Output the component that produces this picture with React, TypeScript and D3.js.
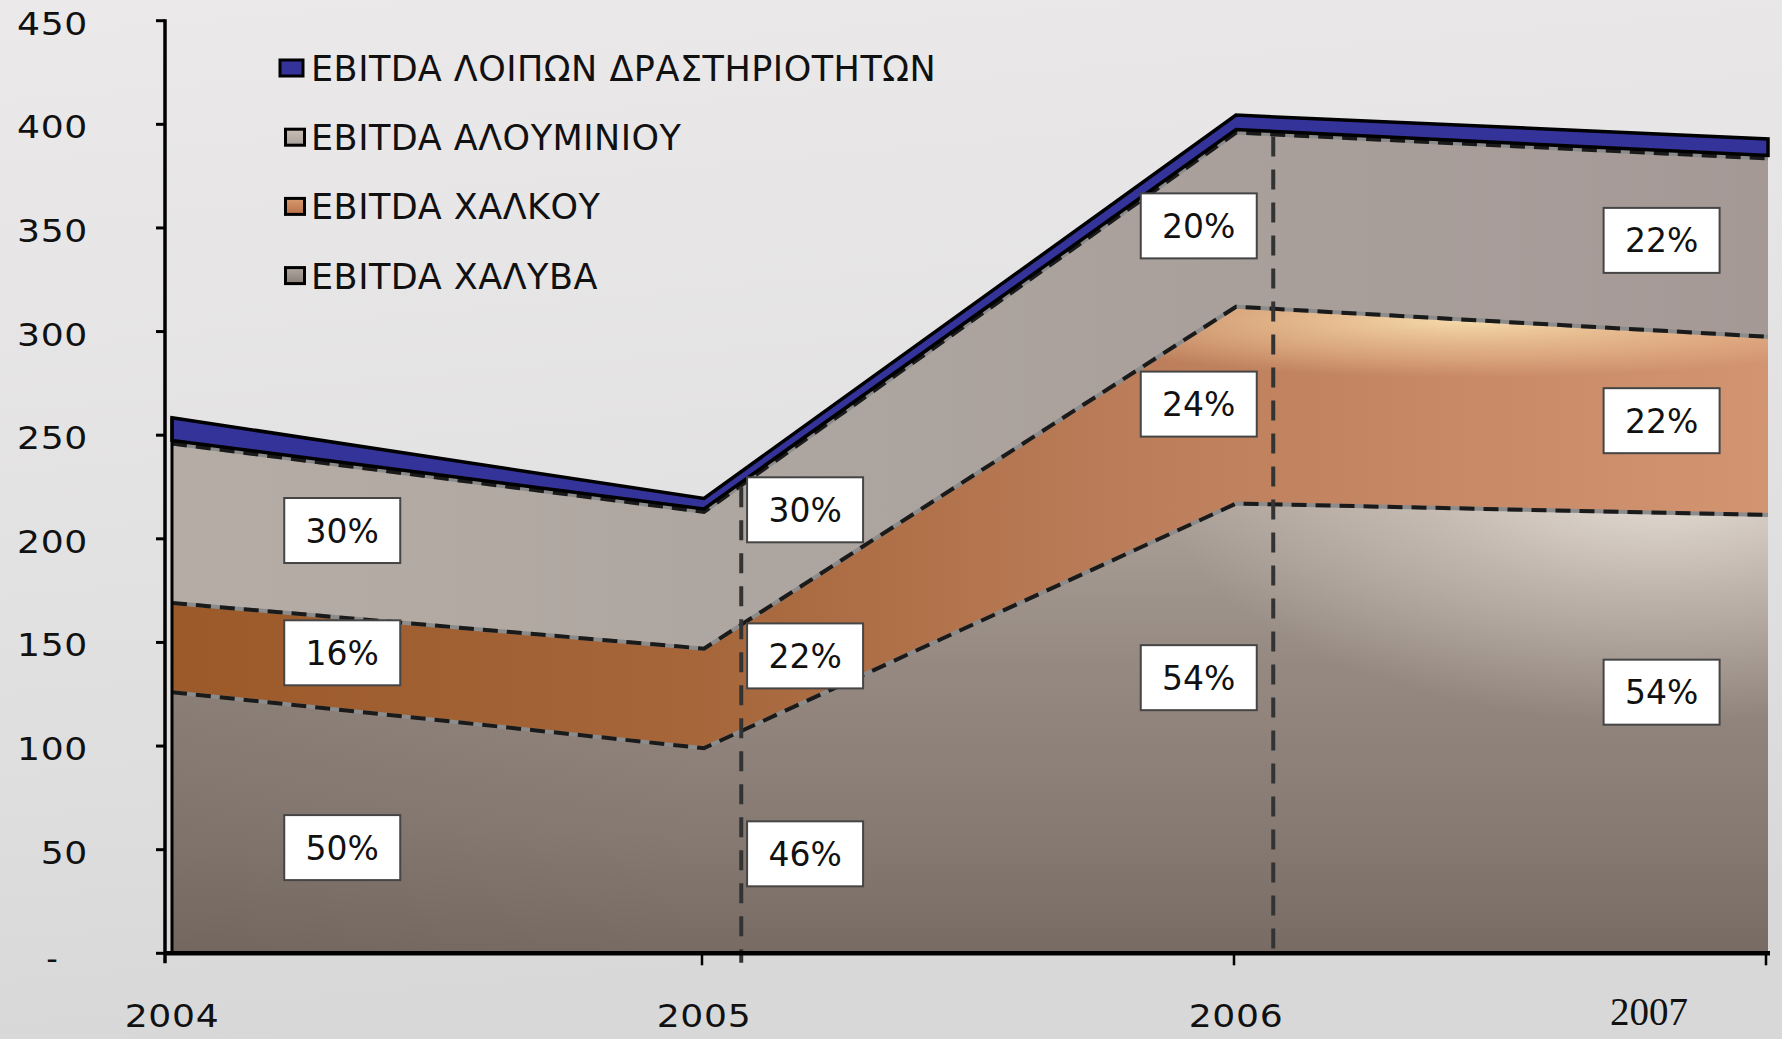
import React from 'react';
import * as d3 from 'd3';

// EBITDA by business unit, stacked
const years = ['2004', '2005', '2006', '2007'];
const steel = [126, 99, 217, 211.5];
const copper = [43, 48, 95, 86];
const aluminium = [77, 66, 84, 86];
const other = [11, 5, 7, 8];

const yTicks = [0, 50, 100, 150, 200, 250, 300, 350, 400, 450];

const legendNames = [
  'EBITDA ΛΟΙΠΩΝ ΔΡΑΣΤΗΡΙΟΤΗΤΩΝ',
  'EBITDA ΑΛΟΥΜΙΝΙΟΥ',
  'EBITDA ΧΑΛΚΟΥ',
  'EBITDA ΧΑΛΥΒΑ',
];

// share of each unit per year, as printed in the boxes
const steelPct = [50, 46, 54, 54];
const copperPct = [16, 22, 24, 22];
const aluminiumPct = [30, 30, 20, 22];

// where the boxes sit: fractional category index, and value of the box centre
const labelCat = [0.32, 1.19, 1.93, 2.8];
const steelLabelAt = [51, 48, 133, 126];
const copperLabelAt = [145, 143.5, 265, 257];
const aluminiumLabelAt = [204, 214, 351, 344];

const W = 1782;
const H = 1039;
const FONT = '"DejaVu Sans", Verdana, sans-serif';

const x = d3.scaleLinear().domain([0, years.length - 1]).range([172, 1768]);
const y = d3.scaleLinear().domain([0, 450]).range([953.3, 20.7]);

const rows = years.map((yr, i) => ({
  year: yr,
  steel: steel[i],
  copper: copper[i],
  aluminium: aluminium[i],
  other: other[i],
}));
const stacked = d3.stack<any>().keys(['steel', 'copper', 'aluminium', 'other'])(rows);

const area = d3
  .area<any>()
  .x((d, i) => x(i))
  .y0((d) => y(d[0]))
  .y1((d) => y(d[1]));
const topLine = d3
  .line<any>()
  .x((d, i) => x(i))
  .y((d) => y(d[1]));

// value of a layer's top edge at a fractional category
const topAt = (layer: number, c: number) => {
  const i = Math.min(Math.floor(c), years.length - 2);
  const t = c - i;
  const a = stacked[layer][i][1];
  const b = stacked[layer][i + 1][1];
  return a + (b - a) * t;
};

const dropLines = [
  { cat: 1.07, end: -4.5 },
  { cat: 2.07, end: -3.5 },
];

function Boundary({ d }: { d: string }) {
  return (
    <g fill="none">
      <path d={d} stroke="#8c8c8c" strokeWidth={4} />
      <path d={d} stroke="#1a1a1a" strokeWidth={4} strokeDasharray="15 9" />
    </g>
  );
}

function PctBox({ cx, cy, text }: { cx: number; cy: number; text: string }) {
  const bw = 116;
  const bh = 65;
  return (
    <g>
      <rect x={cx - bw / 2} y={cy - bh / 2} width={bw} height={bh} fill="#ffffff" stroke="#454545" strokeWidth={2} />
      <text x={cx} y={cy + 12} textAnchor="middle" fontFamily={FONT} fontSize={33} fill="#111">
        {text}
      </text>
    </g>
  );
}

function AxisText({ tx, ty, anchor, children }: { tx: number; ty: number; anchor: string; children: any }) {
  return (
    <text
      transform={`translate(${tx},${ty}) scale(1.13,1)`}
      textAnchor={anchor}
      fontFamily={FONT}
      fontSize={32}
      letterSpacing={0.6}
      fill="#111"
    >
      {children}
    </text>
  );
}

export default function App() {
  const [steelL, copperL, alumL, otherL] = stacked;
  const legendFills = ['#333399', 'url(#legAlum)', 'url(#legCopper)', 'url(#legSteel)'];

  return (
    <svg width={W} height={H} style={{ position: 'absolute', left: 0, top: 0, display: 'block' }}>
      <defs>
        <linearGradient id="bg" x1="0" y1="0" x2="0.15" y2="1">
          <stop offset="0" stopColor="#ebe9ea" />
          <stop offset="0.6" stopColor="#e2e1e1" />
          <stop offset="1" stopColor="#d8d8d8" />
        </linearGradient>
        <linearGradient id="steelV" gradientUnits="userSpaceOnUse" x1="0" y1="470" x2="0" y2="953">
          <stop offset="0" stopColor="#b0a69e" />
          <stop offset="0.4" stopColor="#958981" />
          <stop offset="0.75" stopColor="#867a72" />
          <stop offset="1" stopColor="#786b63" />
        </linearGradient>
        <linearGradient id="steelShade" gradientUnits="userSpaceOnUse" x1="172" y1="0" x2="700" y2="0">
          <stop offset="0" stopColor="#4e443c" stopOpacity="0.12" />
          <stop offset="1" stopColor="#4e443c" stopOpacity="0" />
        </linearGradient>
        <radialGradient id="steelLight" gradientUnits="userSpaceOnUse" cx="1660" cy="470" r="420"
          gradientTransform="translate(1660 470) scale(1.2 0.6) translate(-1660 -470)">
          <stop offset="0" stopColor="#f0e8e0" stopOpacity="0.95" />
          <stop offset="0.5" stopColor="#ddd3ca" stopOpacity="0.5" />
          <stop offset="1" stopColor="#ddd3ca" stopOpacity="0" />
        </radialGradient>
        <linearGradient id="copperH" gradientUnits="userSpaceOnUse" x1="172" y1="0" x2="1768" y2="0">
          <stop offset="0" stopColor="#9c5a2a" />
          <stop offset="0.33" stopColor="#a6663a" />
          <stop offset="0.6" stopColor="#bb7d5a" />
          <stop offset="1" stopColor="#d39472" />
        </linearGradient>
        <radialGradient id="copperLight" gradientUnits="userSpaceOnUse" cx="1470" cy="320" r="440"
          gradientTransform="translate(1470 320) scale(1 0.13) translate(-1470 -320)">
          <stop offset="0" stopColor="#f8e0b0" stopOpacity="0.95" />
          <stop offset="0.6" stopColor="#f0c898" stopOpacity="0.5" />
          <stop offset="1" stopColor="#f0c898" stopOpacity="0" />
        </radialGradient>
        <linearGradient id="alumH" gradientUnits="userSpaceOnUse" x1="172" y1="0" x2="1768" y2="0">
          <stop offset="0" stopColor="#b5ada5" />
          <stop offset="0.4" stopColor="#ada59f" />
          <stop offset="1" stopColor="#a59996" />
        </linearGradient>
        <linearGradient id="legAlum" x1="0" y1="0" x2="0" y2="1">
          <stop offset="0" stopColor="#c8c0b8" />
          <stop offset="1" stopColor="#a8a09a" />
        </linearGradient>
        <linearGradient id="legCopper" x1="0" y1="0" x2="0" y2="1">
          <stop offset="0" stopColor="#d89a70" />
          <stop offset="1" stopColor="#b87048" />
        </linearGradient>
        <linearGradient id="legSteel" x1="0" y1="0" x2="0" y2="1">
          <stop offset="0" stopColor="#b0a8a2" />
          <stop offset="1" stopColor="#8a7e76" />
        </linearGradient>
      </defs>

      <rect x={0} y={0} width={W} height={H} fill="url(#bg)" />

      {/* stacked areas */}
      <path d={area(steelL) || ''} fill="url(#steelV)" />
      <path d={area(steelL) || ''} fill="url(#steelShade)" />
      <path d={area(steelL) || ''} fill="url(#steelLight)" />
      <path d={area(copperL) || ''} fill="url(#copperH)" />
      <path d={area(copperL) || ''} fill="url(#copperLight)" />
      <path d={area(alumL) || ''} fill="url(#alumH)" />

      <Boundary d={topLine(steelL) || ''} />
      <Boundary d={topLine(copperL) || ''} />
      <Boundary d={topLine(alumL) || ''} />

      <path
        d={area(otherL) || ''}
        transform="translate(0,-3)"
        fill="#333399"
        stroke="#000"
        strokeWidth={3.5}
        strokeLinejoin="miter"
      />

      {/* left edge of the stack */}
      <line x1={x(0)} x2={x(0)} y1={y(0)} y2={y(stacked[3][0][1]) - 3} stroke="#000" strokeWidth={3} />

      {/* drop lines */}
      {dropLines.map((dl, i) => (
        <line
          key={i}
          x1={x(dl.cat)}
          x2={x(dl.cat)}
          y1={y(topAt(2, dl.cat)) + 2}
          y2={y(dl.end)}
          stroke="#333"
          strokeWidth={4}
          strokeDasharray="20 13"
        />
      ))}

      {/* axes */}
      <line x1={165} x2={165} y1={y(450) - 1.5} y2={y(0) + 10} stroke="#000" strokeWidth={3.5} />
      {yTicks.map((t) => (
        <g key={t}>
          <line x1={156} x2={165} y1={y(t)} y2={y(t)} stroke="#000" strokeWidth={3} />
          {t === 0 ? (
            <text x={52} y={y(t) + 17} textAnchor="middle" fontFamily={FONT} fontSize={32} fill="#111">
              -
            </text>
          ) : (
            <AxisText tx={88} ty={y(t) + 14} anchor="end">
              {t}
            </AxisText>
          )}
        </g>
      ))}
      <line x1={165} x2={1770} y1={y(0)} y2={y(0)} stroke="#000" strokeWidth={4.5} />
      {years.map((yr, i) => (
        <g key={yr}>
          {i > 0 && <line x1={x(i) - 2} x2={x(i) - 2} y1={y(0)} y2={y(0) + 12} stroke="#000" strokeWidth={2.5} />}
          {i < years.length - 1 ? (
            <AxisText tx={x(i)} ty={1026.5} anchor="middle">
              {yr}
            </AxisText>
          ) : (
            <text x={x(i) - 119} y={1025} textAnchor="middle" fontFamily='"Liberation Serif", "Times New Roman", serif' fontSize={39} fill="#111">
              {yr}
            </text>
          )}
        </g>
      ))}

      {/* percentage boxes */}
      {labelCat.map((c, i) => (
        <g key={i}>
          <PctBox cx={x(c)} cy={y(aluminiumLabelAt[i])} text={aluminiumPct[i] + '%'} />
          <PctBox cx={x(c)} cy={y(copperLabelAt[i])} text={copperPct[i] + '%'} />
          <PctBox cx={x(c)} cy={y(steelLabelAt[i])} text={steelPct[i] + '%'} />
        </g>
      ))}

      {/* legend */}
      {legendNames.map((name, i) => {
        const cy = 68 + i * 69.2;
        const bw = i === 0 ? 23 : 19;
        const bh = 16;
        const bx = i === 0 ? 280 : 285.5;
        return (
          <g key={name}>
            <rect x={bx} y={cy - bh / 2} width={bw} height={bh} fill={legendFills[i]} stroke="#000" strokeWidth={3} />
            <text x={311} y={cy + 13} fontFamily={FONT} fontSize={35} letterSpacing={0.5} fill="#111">
              {name}
            </text>
          </g>
        );
      })}
    </svg>
  );
}
